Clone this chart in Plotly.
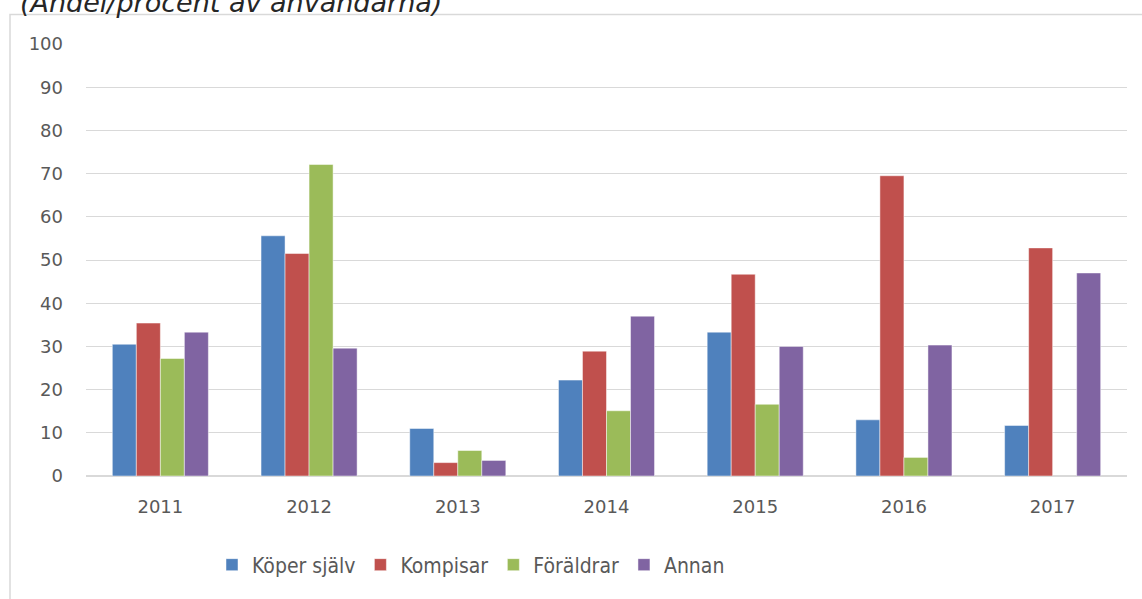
import plotly.graph_objects as go

years = ["2011", "2012", "2013", "2014", "2015", "2016", "2017"]
koper_sjalv = [30.5, 55.6, 11.0, 22.2, 33.3, 13.0, 11.7]
kompisar = [35.4, 51.5, 3.1, 28.9, 46.7, 69.5, 52.8]
foraldrar = [27.2, 72.1, 5.9, 15.1, 16.6, 4.3, None]
annan = [33.3, 29.6, 3.6, 37.0, 30.0, 30.3, 47.0]

series = [
    ("Köper själv", koper_sjalv, "#4F81BD"),
    ("Kompisar", kompisar, "#C0504D"),
    ("Föräldrar", foraldrar, "#9BBB59"),
    ("Annan", annan, "#8064A2"),
]

W, H = 1142, 599
L, R, T, B = 86, 15, 44, 123
pw, ph = W - L - R, H - T - B

fig = go.Figure()
for name, vals, col in series:
    fig.add_trace(go.Bar(
        x=years, y=vals, name=name,
        marker=dict(color=col, line=dict(color="rgba(255,255,255,0.6)", width=0.8)),
    ))

def px_x(p):
    return (p - L) / pw

def px_y(p):
    return (H - B - p) / ph

fig.update_layout(
    width=W, height=H,
    margin=dict(l=L, r=R, t=T, b=B),
    paper_bgcolor="white", plot_bgcolor="white",
    barmode="group", bargap=0.354, bargroupgap=0,
    font=dict(family="DejaVu Sans", color="#595959"),
    showlegend=True,
    legend=dict(
        orientation="h", x=px_x(212), xanchor="left", y=px_y(565), yanchor="middle",
        font=dict(family="DejaVu Sans Condensed, Liberation Sans Narrow, Lato",
                  size=21, color="#595959"),
        itemwidth=30, traceorder="normal",
    ),
    xaxis=dict(
        showgrid=False, showline=False, zeroline=False,
        tickfont=dict(family="DejaVu Sans", size=18, color="#595959"),
        ticks="", ticklabelstandoff=18,
    ),
    yaxis=dict(
        range=[0, 100], dtick=10, tick0=0,
        showgrid=True, gridcolor="#D9D9D9", gridwidth=1.3,
        zeroline=True, zerolinecolor="#D9D9D9", zerolinewidth=1.6,
        showline=False, ticks="",
        tickfont=dict(family="DejaVu Sans", size=18, color="#595959"),
        ticklabelstandoff=22,
    ),
    shapes=[dict(
        type="rect", xref="paper", yref="paper",
        x0=px_x(10), x1=px_x(1160), y0=px_y(620), y1=px_y(14.5),
        line=dict(color="#D9D9D9", width=1.5), fillcolor="rgba(0,0,0,0)", layer="below",
    )],
    annotations=[dict(
        text="(Andel/procent av användarna)", xref="paper", yref="paper",
        x=px_x(18), y=px_y(20), xanchor="left", yanchor="bottom",
        showarrow=False,
        font=dict(family="DejaVu Sans", size=27, color="#262626", style="italic"),
    )],
)

fig.write_html(
    "out.html",
    config={"displayModeBar": False},
    post_script="document.body.style.margin='0';document.body.style.padding='0';",
)
